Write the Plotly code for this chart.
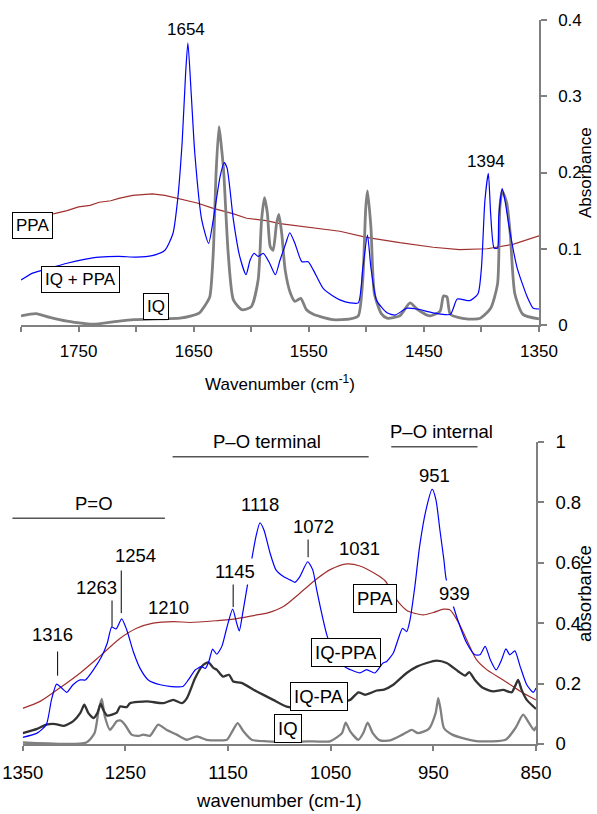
import plotly.graph_objects as go

# ---------------- TOP PANEL DATA (1800-1350 cm-1) ----------------
top_wn_iqppa = [1800, 1790, 1781, 1760, 1745, 1732, 1715, 1700, 1686, 1675, 1668, 1664, 1660, 1657,
                1655, 1652, 1649, 1643, 1637, 1633, 1627, 1623.5, 1621, 1615.5, 1610, 1604.5, 1601,
                1597.5, 1594, 1589.5, 1584, 1579, 1575, 1570, 1566.5, 1562, 1556, 1550.5, 1546,
                1537.5, 1529, 1523, 1514, 1507, 1503, 1499, 1496, 1491, 1482, 1475, 1465, 1456,
                1442, 1427, 1421, 1410, 1403, 1400, 1397, 1394, 1392, 1389, 1386, 1385, 1382, 1380,
                1375, 1369, 1360, 1355, 1350]
top_abs_iqppa = [0.059, 0.068, 0.072, 0.081, 0.086, 0.089, 0.090, 0.089, 0.091, 0.098, 0.120, 0.163,
                 0.240, 0.330, 0.370, 0.300, 0.225, 0.138, 0.107, 0.138, 0.195, 0.213, 0.206, 0.138,
                 0.090, 0.066, 0.085, 0.094, 0.090, 0.094, 0.081, 0.066, 0.085, 0.107, 0.121, 0.107,
                 0.083, 0.083, 0.072, 0.048, 0.038, 0.033, 0.029, 0.029, 0.075, 0.118, 0.075, 0.032,
                 0.016, 0.013, 0.022, 0.021, 0.016, 0.014, 0.034, 0.032, 0.041, 0.075, 0.163, 0.199,
                 0.146, 0.101, 0.101, 0.141, 0.179, 0.167, 0.120, 0.075, 0.036, 0.022, 0.021]

top_wn_iq = [1800, 1787, 1775, 1760, 1745, 1737, 1720, 1702, 1680, 1662, 1652, 1645, 1640, 1636,
             1633, 1630.5, 1628, 1626, 1624, 1620, 1615.5, 1608, 1600, 1594, 1591, 1588.5, 1586,
             1583.5, 1581, 1578, 1576, 1573.5, 1570.5, 1566, 1562, 1557, 1552, 1546, 1540, 1529,
             1514, 1507, 1503, 1500.5, 1499, 1496, 1493, 1487, 1482, 1471, 1462, 1456, 1445, 1436,
             1433, 1430, 1427, 1413, 1401, 1392, 1386, 1384, 1382, 1378, 1375, 1371, 1364, 1350]
top_abs_iq = [0.012, 0.015, 0.010, 0.005, 0.002, 0.001, 0.004, 0.007, 0.008, 0.009, 0.012, 0.016,
              0.026, 0.037, 0.094, 0.200, 0.260, 0.235, 0.203, 0.094, 0.033, 0.020, 0.024, 0.059,
              0.138, 0.167, 0.147, 0.103, 0.098, 0.133, 0.145, 0.120, 0.072, 0.042, 0.031, 0.035,
              0.020, 0.014, 0.011, 0.007, 0.008, 0.012, 0.062, 0.154, 0.176, 0.128, 0.041, 0.015,
              0.009, 0.012, 0.029, 0.021, 0.012, 0.018, 0.038, 0.037, 0.014, 0.008, 0.009, 0.022,
              0.054, 0.154, 0.176, 0.160, 0.120, 0.041, 0.014, 0.008]

top_wn_ppa = [1800, 1785, 1771, 1760, 1750, 1740, 1732, 1722, 1715, 1703, 1695, 1686, 1675, 1662,
              1647, 1633, 1616, 1604, 1587, 1575, 1560, 1537, 1523, 1500, 1471, 1442, 1419, 1395,
              1372, 1350]
top_abs_ppa = [0.140, 0.143, 0.146, 0.150, 0.155, 0.157, 0.161, 0.163, 0.166, 0.170, 0.171, 0.172,
               0.170, 0.165, 0.160, 0.153, 0.146, 0.140, 0.137, 0.133, 0.130, 0.125, 0.123, 0.115,
               0.108, 0.102, 0.099, 0.100, 0.106, 0.117]

# ---------------- BOTTOM PANEL DATA (1350-850 cm-1) ----------------
bot_wn_iqppa = [1350, 1336, 1327, 1322, 1317, 1312, 1307, 1301, 1294, 1289, 1281, 1273, 1267.6,
                1263.3, 1259, 1253.6, 1248.7, 1242.3, 1235.8, 1227.7, 1216, 1205, 1194, 1188.7,
                1182, 1176, 1172, 1168.5, 1165, 1161, 1156, 1151.3, 1145.5, 1141.6, 1139, 1135.7,
                1131.2, 1127, 1122.8, 1118.9, 1115, 1109, 1103.3, 1096, 1089.6, 1084.8, 1080,
                1072.4, 1067.5, 1063.6, 1058.8, 1053.3, 1044, 1036, 1030, 1021.5, 1015, 1007, 999,
                995.5, 989, 984, 980, 976, 972.7, 968, 963.4, 957.2, 951.1, 947.4, 943.6, 939.7,
                937.7, 929.9, 924, 917.5, 909.5, 904.6, 899.5, 894.5, 888.8, 883.5, 879.3, 875.5,
                870.6, 865.4, 859, 852.6, 850]
bot_abs_iqppa = [0.022, 0.036, 0.064, 0.146, 0.198, 0.185, 0.171, 0.196, 0.212, 0.212, 0.246, 0.290,
                 0.334, 0.387, 0.381, 0.414, 0.378, 0.306, 0.251, 0.212, 0.196, 0.190, 0.190, 0.212,
                 0.245, 0.256, 0.250, 0.275, 0.314, 0.297, 0.323, 0.383, 0.446, 0.400, 0.374, 0.433,
                 0.523, 0.609, 0.686, 0.732, 0.708, 0.631, 0.576, 0.554, 0.543, 0.535, 0.554, 0.603,
                 0.576, 0.510, 0.433, 0.356, 0.285, 0.255, 0.245, 0.235, 0.246, 0.235, 0.268, 0.273,
                 0.301, 0.350, 0.383, 0.372, 0.411, 0.521, 0.653, 0.774, 0.843, 0.807, 0.708, 0.609,
                 0.549, 0.449, 0.389, 0.334, 0.295, 0.295, 0.323, 0.279, 0.245, 0.279, 0.315, 0.295,
                 0.308, 0.256, 0.196, 0.171, 0.185]

bot_wn_ppa = [1350, 1333, 1314, 1294, 1275, 1255, 1239, 1223, 1203, 1187, 1158, 1145, 1122, 1112,
              1096, 1080, 1064, 1051, 1034, 1021.5, 1005, 997, 990, 983, 975, 968, 960, 950, 940,
              934, 926, 917.5, 908, 898, 882, 865, 850]
bot_abs_ppa = [0.118, 0.141, 0.185, 0.235, 0.290, 0.350, 0.383, 0.400, 0.405, 0.402, 0.409, 0.413,
               0.427, 0.433, 0.455, 0.499, 0.545, 0.576, 0.596, 0.589, 0.560, 0.540, 0.500, 0.465,
               0.440, 0.432, 0.427, 0.435, 0.446, 0.444, 0.405, 0.345, 0.279, 0.246, 0.212, 0.174,
               0.146]

bot_wn_iqpa = [1350, 1336, 1327, 1318, 1310, 1301, 1294, 1290, 1286, 1281, 1277.3, 1274, 1271.5,
               1267.6, 1258.4, 1255.2, 1248.7, 1245.5, 1229, 1213, 1203.3, 1195, 1190, 1182, 1175,
               1169.2, 1164, 1161, 1155, 1149, 1145, 1137, 1122, 1106, 1093, 1075, 1060, 1045,
               1031, 1023, 1016.6, 1005, 998, 989, 976, 966, 956.5, 947, 937, 925.7, 919, 915,
               909.5, 901.4, 891.6, 882, 873.7, 870.6, 867.4, 864, 859, 850]
bot_abs_iqpa = [0.036, 0.050, 0.064, 0.066, 0.060, 0.075, 0.102, 0.130, 0.102, 0.086, 0.102, 0.133,
                0.113, 0.094, 0.104, 0.124, 0.122, 0.135, 0.141, 0.135, 0.146, 0.135, 0.152, 0.218,
                0.259, 0.270, 0.251, 0.246, 0.223, 0.229, 0.207, 0.202, 0.174, 0.146, 0.124, 0.120,
                0.125, 0.135, 0.146, 0.171, 0.163, 0.177, 0.180, 0.196, 0.235, 0.256, 0.268, 0.276,
                0.268, 0.240, 0.226, 0.238, 0.212, 0.185, 0.174, 0.179, 0.171, 0.190, 0.212, 0.179,
                0.146, 0.116]

bot_wn_iq = [1350, 1288, 1280, 1276, 1273, 1270, 1265, 1258.4, 1255, 1250.4, 1244, 1237, 1232.5,
             1226, 1218, 1210, 1200, 1190, 1180.5, 1171, 1158, 1151, 1145, 1140.6, 1135, 1127,
             1112, 1090, 1073, 1050.7, 1039, 1035.4, 1031, 1023, 1018.3, 1014, 1009, 1002, 992,
             980, 971, 965, 954.4, 947.8, 945.2, 942.9, 939.7, 931.6, 918.6, 905.6, 879.6, 870,
             862.5, 856.7, 851.8, 850]
bot_abs_iq = [0.005, 0.005, 0.036, 0.113, 0.149, 0.091, 0.047, 0.075, 0.078, 0.064, 0.031, 0.027,
              0.031, 0.027, 0.064, 0.047, 0.031, 0.014, 0.025, 0.014, 0.012, 0.014, 0.047, 0.069,
              0.042, 0.014, 0.009, 0.007, 0.009, 0.009, 0.036, 0.071, 0.042, 0.014, 0.036, 0.071,
              0.036, 0.012, 0.012, 0.031, 0.047, 0.036, 0.050, 0.102, 0.152, 0.113, 0.053, 0.031,
              0.017, 0.009, 0.014, 0.053, 0.097, 0.069, 0.045, 0.058]

# ---------------- LABELS ----------------
top_tick_vals = [1750, 1650, 1550, 1450, 1350]
bot_tick_vals = [1350, 1250, 1150, 1050, 950, 850]

# series labels (text, wavenumber, absorbance)
top_series_labels = [("PPA", 1789.6, 0.131), ("IQ + PPA", 1747.9, 0.060), ("IQ", 1682.7, 0.024)]
top_peak_labels = [("1654", 1656.6, 0.388), ("1394", 1396.0, 0.214)]

bot_series_labels = [("PPA", 1006.9, 0.483), ("IQ-PPA", 1035.1, 0.302),
                     ("IQ-PA", 1061.4, 0.156), ("IQ", 1091.6, 0.051)]
# (peak, label x, label y)
bot_peak_labels = [(1316, 1320.7, 0.361), (1263, 1278.0, 0.517), (1254, 1239.7, 0.622),
                   (1210, 1207.8, 0.453), (1145, 1143.5, 0.570), (1118, 1118.4, 0.793),
                   (1072, 1066.3, 0.719), (1031, 1021.5, 0.648), (951, 948.4, 0.887),
                   (939, 929.4, 0.499)]
# leader lines: (peak, y from, y to)
bot_leaders = [(1316, 0.306, 0.226), (1263, 0.487, 0.388), (1254, 0.574, 0.433),
               (1145, 0.549, 0.453), (1072, 0.681, 0.618)]
# band headings: (text, text x, text y, line x0, line x1, line y) as fractions of the plot area
bands = [("P=O", 0.1386, 0.796, -0.020, 0.277, 0.747),
         ("P\u2013O terminal", 0.4768, 1.000, 0.292, 0.674, 0.950),
         ("P\u2013O internal", 0.8168, 1.033, 0.718, 0.886, 0.983)]

FONT = "Liberation Sans, Arial, sans-serif"
BLUE = "#0000FF"
GREY = "#808080"
DARK = "#333333"
BROWN = "#A0302E"
AXIS = "#808080"

fig = go.Figure()
fig.add_trace(go.Scatter(x=top_wn_ppa, y=top_abs_ppa, mode="lines", name="PPA",
                         line=dict(color=BROWN, width=1.2), xaxis="x", yaxis="y"))
fig.add_trace(go.Scatter(x=top_wn_iq, y=top_abs_iq, mode="lines", name="IQ",
                         line=dict(color=GREY, width=2.8, shape="spline", smoothing=0.6),
                         xaxis="x", yaxis="y"))
fig.add_trace(go.Scatter(x=top_wn_iqppa, y=top_abs_iqppa, mode="lines", name="IQ + PPA",
                         line=dict(color=BLUE, width=1.2, shape="spline", smoothing=0.6),
                         xaxis="x", yaxis="y"))

fig.add_trace(go.Scatter(x=bot_wn_ppa, y=bot_abs_ppa, mode="lines", name="PPA",
                         line=dict(color=BROWN, width=1.2, shape="spline", smoothing=0.8),
                         xaxis="x2", yaxis="y2"))
fig.add_trace(go.Scatter(x=bot_wn_iq, y=bot_abs_iq, mode="lines", name="IQ",
                         line=dict(color=GREY, width=2.3, shape="spline", smoothing=0.6),
                         xaxis="x2", yaxis="y2"))
fig.add_trace(go.Scatter(x=bot_wn_iqpa, y=bot_abs_iqpa, mode="lines", name="IQ-PA",
                         line=dict(color=DARK, width=2.3, shape="spline", smoothing=0.6),
                         xaxis="x2", yaxis="y2"))
fig.add_trace(go.Scatter(x=bot_wn_iqppa, y=bot_abs_iqppa, mode="lines", name="IQ-PPA",
                         line=dict(color=BLUE, width=1.2, shape="spline", smoothing=0.6),
                         xaxis="x2", yaxis="y2"))

C = dict(xanchor="center", yanchor="middle", showarrow=False)
annotations = []
for txt, xv, yv in top_series_labels:
    annotations.append(dict(text=txt, x=xv, y=yv, xref="x", yref="y", **C,
                            font=dict(family=FONT, size=17, color="black"), bgcolor="white",
                            bordercolor="black", borderwidth=1, borderpad=3))
for txt, xv, yv in top_peak_labels:
    annotations.append(dict(text=txt, x=xv, y=yv, xref="x", yref="y", **C,
                            font=dict(family=FONT, size=17, color="black")))
for txt, xv, yv in bot_series_labels:
    annotations.append(dict(text=txt, x=xv, y=yv, xref="x2", yref="y2", **C,
                            font=dict(family=FONT, size=18.5, color="black"), bgcolor="white",
                            bordercolor="black", borderwidth=1, borderpad=3))
for pk, xv, yv in bot_peak_labels:
    annotations.append(dict(text=str(pk), x=xv, y=yv, xref="x2", yref="y2", **C,
                            font=dict(family=FONT, size=18.5, color="black"), bgcolor="white",
                            borderpad=2))
for txt, xv, yv, x0, x1, ly in bands:
    annotations.append(dict(text=txt, x=xv, y=yv, xref="x2 domain", yref="y2 domain", **C,
                            font=dict(family=FONT, size=18.5, color="black")))

# y axis titles, placed beside the tick labels like the original
annotations.append(dict(text="Absorbance", x=1.0888, y=0.790, xref="paper", yref="paper",
                        textangle=-90, **C, font=dict(family=FONT, size=17, color="black")))
annotations.append(dict(text="absorbance", x=1.0888, y=0.2086, xref="paper", yref="paper",
                        textangle=-90, **C, font=dict(family=FONT, size=18.5, color="black")))

shapes = []
for pk, y0, y1 in bot_leaders:
    shapes.append(dict(type="line", xref="x2", yref="y2", x0=pk, x1=pk, y0=y0, y1=y1,
                       line=dict(color="black", width=1)))
for txt, xv, yv, x0, x1, ly in bands:
    shapes.append(dict(type="line", xref="x2 domain", yref="y2 domain", x0=x0, x1=x1,
                       y0=ly, y1=ly, line=dict(color="#555555", width=1.5)))

axis_common = dict(showline=True, linecolor=AXIS, linewidth=1.5, ticks="outside",
                   tickcolor=AXIS, tickwidth=1.5, showgrid=False, zeroline=False,
                   automargin=False, ticklabeloverflow="allow",
                   tickfont=dict(family=FONT, color="black"))

fig.update_layout(
    template="none",
    width=597, height=814,
    margin=dict(l=21, r=58, t=20, b=70, autoexpand=False),
    paper_bgcolor="white", plot_bgcolor="white",
    showlegend=False,
    font=dict(family=FONT, color="black"),
    xaxis=dict(**axis_common, domain=[0, 1], range=[1800, 1350], anchor="y",
               tickmode="array", tickvals=top_tick_vals, ticklen=5,
               tickfont_size=17, ticklabelstandoff=5,
               minor=dict(tickmode="linear", tick0=1350, dtick=50, ticks="outside", ticklen=5,
                          tickcolor=AXIS, tickwidth=1.5, showgrid=False),
               title=dict(text="Wavenumber (cm<sup>-1</sup>)", standoff=18,
                          font=dict(family=FONT, size=17, color="black"))),
    yaxis=dict(**axis_common, domain=[0.5787, 1.0], range=[0, 0.4], anchor="x", side="right",
               tickmode="linear", tick0=0, dtick=0.1, ticklen=6, tickfont_size=17,
               ticklabelstandoff=8),
    xaxis2=dict(**axis_common, domain=[0.0033, 0.9942], range=[1350, 850], anchor="y2",
                tickmode="array", tickvals=bot_tick_vals, ticklen=5, tickfont_size=18.5,
                ticklabelstandoff=6,
                title=dict(text="wavenumber (cm-1)", standoff=12,
                           font=dict(family=FONT, size=18.5, color="black"))),
    yaxis2=dict(**axis_common, domain=[0, 0.4175], range=[0, 1], anchor="x2", side="right",
                tickmode="linear", tick0=0, dtick=0.2, ticklen=6, tickfont_size=18.5,
                ticklabelstandoff=8),
    annotations=annotations,
    shapes=shapes,
)

# remove the browser's default 8px body margin so the figure sits at the window's corner
fig.write_html("out.html", config={"displayModeBar": False},
               post_script="document.body.style.margin='0';")
